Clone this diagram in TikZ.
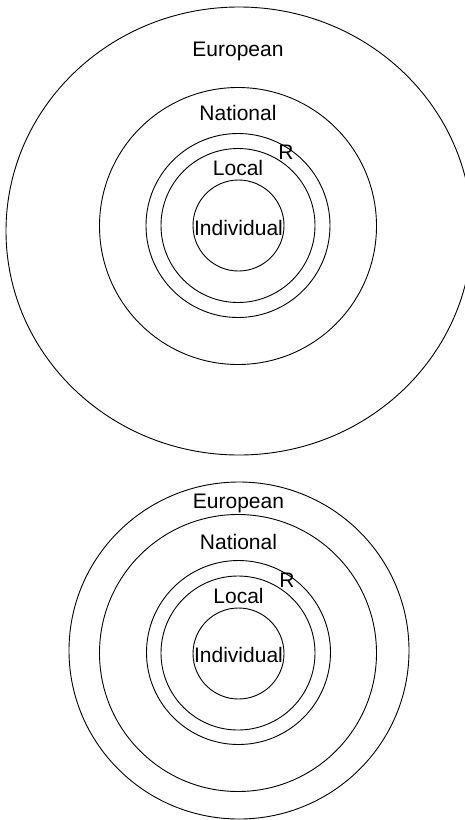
\documentclass[tikz,border=0pt]{standalone}
\usepackage{fontspec}
\setmainfont{Liberation Sans}
\begin{document}
\begin{tikzpicture}[x=1pt,y=-1pt,
  ring/.style={draw=black,line width=0.9pt},
  lbl/.style={font=\fontsize{21}{25}\selectfont,anchor=base,inner sep=0pt}]
\useasboundingbox (0,0) rectangle (465,820);
% top diagram
\draw[ring] (239,231) ellipse [x radius=233, y radius=224];
\draw[ring] (238,226) circle [radius=138.5];
\draw[ring] (238,225.5) circle [radius=92];
\draw[ring] (238,225.5) circle [radius=77];
\draw[ring] (238.5,225.5) circle [radius=45.5];
\node[lbl] (eu1) at (238,56.5) {European};
\node[lbl] (na1) at (238,120.5) {National};
\node[lbl] (r1) at (286,159) {R};
\node[lbl] (lo1) at (238,175) {Local};
\node[lbl] (in1) at (238.5,235) {Individual};
% bottom diagram
\draw[ring] (239,650.5) ellipse [x radius=170, y radius=168.5];
\draw[ring] (238,653) circle [radius=138.5];
\draw[ring] (238.5,652.5) circle [radius=92];
\draw[ring] (238,653) circle [radius=77];
\draw[ring] (238.5,653.5) circle [radius=45.5];
\node[lbl] (eu2) at (238.5,508.3) {European};
\node[lbl] (na2) at (238.5,549.3) {National};
\node[lbl] (r2) at (287,587) {R};
\node[lbl] (lo2) at (238.5,603.3) {Local};
\node[lbl] (in2) at (238.5,662) {Individual};
\end{tikzpicture}
\end{document}
